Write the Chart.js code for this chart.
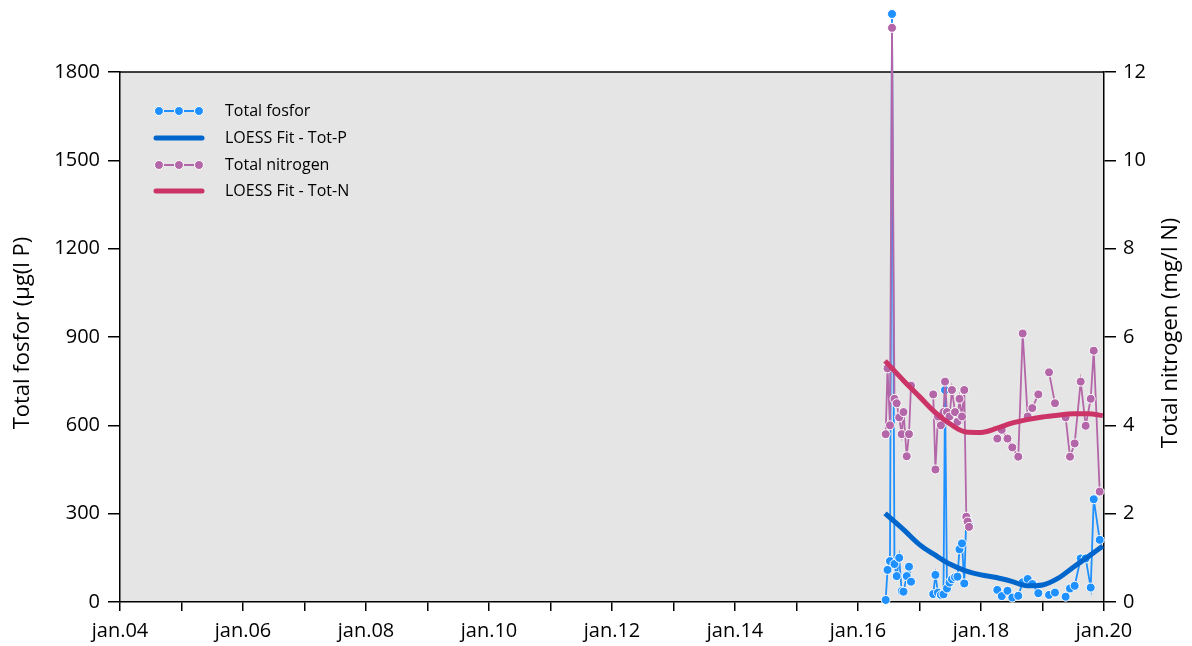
<!DOCTYPE html>
<html>
<head>
<meta charset="utf-8">
<script src="https://cdn.jsdelivr.net/npm/chart.js@4"></script>
<style>
  body { margin: 0; background: #fff; }
  #wrap { width: 1192px; height: 646px; }
</style>
</head>
<body>
<div id="wrap"><canvas id="chart"></canvas></div>
<script>
// sample dates as decimal years, null rows break the lines
const sampleYears = [
    2016.450, 2016.480, 2016.520, 2016.553, 2016.593, 2016.629, 2016.670, 2016.710, 2016.740, 2016.792, 2016.829, 2016.862,
    2016.95,
    2017.223, 2017.259, 2017.300, 2017.348, 2017.390, 2017.415, 2017.447, 2017.488, 2017.528, 2017.577, 2017.618, 2017.650,
    2017.691, 2017.728, 2017.761, 2017.782, 2017.805,
    2017.90,
    2018.265, 2018.337, 2018.431, 2018.509, 2018.606, 2018.678, 2018.759, 2018.834, 2018.932,
    2018.99,
    2019.106, 2019.203,
    2019.29,
    2019.376, 2019.447, 2019.523, 2019.621, 2019.702, 2019.784, 2019.833, 2019.930
];
const totalP = [
    7, 109, 139, 1997, 129, 88, 150, 37, 35, 88, 120, 69,
    null,
    27, 92, 32, 24, 26, 720, 46, 66, 77, 84, 86, 179,
    199, 63, 290, 279, 262,
    null,
    41, 20, 38, 15, 21, 67, 78, 61, 30,
    null,
    24, 32,
    null,
    18, 46, 55, 148, 148, 49, 349, 211
];
const totalN = [
    3.8, 5.29, 4.0, 13.0, 4.6, 4.5, 4.18, 3.8, 4.3, 3.3, 3.8, 4.9,
    null,
    4.7, 3.0, 4.2, 4.0, 4.3, 4.99, 4.3, 4.2, 4.8, 4.3, 4.08, 4.6,
    4.2, 4.8, 1.93, 1.82, 1.7,
    null,
    3.7, 3.9, 3.7, 3.5, 3.29, 6.08, 4.2, 4.39, 4.7,
    null,
    5.2, 4.5,
    null,
    4.18, 3.29, 3.59, 4.99, 3.99, 4.6, 5.69, 2.5
];

// LOESS curves
const loessYears = [2016.44, 2016.75, 2017.0, 2017.25, 2017.5, 2017.75, 2018.0, 2018.25, 2018.5, 2018.75, 2019.0, 2019.25, 2019.5, 2019.75, 2019.98];
const loessP = [301, 244, 195, 160, 128, 106, 92, 83, 70, 55, 58, 80, 118, 155, 190];
const loessN = [5.46, 5.0, 4.65, 4.3, 4.03, 3.85, 3.84, 3.93, 4.05, 4.13, 4.19, 4.23, 4.26, 4.26, 4.22];

const pTicks = [0, 300, 600, 900, 1200, 1500, 1800];
const nTicks = [0, 2, 4, 6, 8, 10, 12];

const leftTitle = 'Total fosfor (µg(l P)';
const rightTitle = 'Total nitrogen (mg/l N)';

const FONT = 'Open Sans';

function pairs(xs, ys) {
    return xs.map((x, i) => ({ x: x, y: ys[i] }));
}

// grey plot area + top frame line
const plotBox = {
    id: 'plotBox',
    beforeDraw(chart) {
        const { ctx, chartArea: a } = chart;
        ctx.save();
        ctx.fillStyle = '#e5e5e5';
        ctx.fillRect(a.left, a.top, a.right - a.left, a.bottom - a.top);
        ctx.restore();
    },
    beforeDatasetsDraw(chart) {
        const { ctx, chartArea: a } = chart;
        ctx.save();
        ctx.strokeStyle = '#000';
        ctx.lineWidth = 1.5;
        ctx.beginPath();
        ctx.moveTo(a.left, a.top);
        ctx.lineTo(a.right, a.top);
        ctx.stroke();
        ctx.restore();
    },
    // points above the axis max are skipped by chart.js, draw them anyway
    afterDatasetsDraw(chart) {
        const full = { left: 0, top: 0, right: chart.width, bottom: chart.height };
        chart.data.datasets.forEach((ds, i) => {
            if (!ds.pointRadius) return;
            chart.getDatasetMeta(i).data.forEach(el => {
                if (!el.skip && el.y < chart.chartArea.top) el.draw(chart.ctx, full);
            });
        });
    }
};

// legend inside the plot + both axis titles reading upwards
const insideLegend = {
    id: 'insideLegend',
    afterDraw(chart) {
        const ctx = chart.ctx;
        const x0 = 159, x1 = 199, textX = 225;
        const rows = [111, 138, 165, 191];
        ctx.save();
        chart.data.datasets.forEach((ds, i) => {
            const y = rows[i];
            ctx.strokeStyle = ds.borderColor;
            ctx.lineCap = 'round';
            ctx.beginPath();
            if (ds.pointRadius) {
                ctx.lineWidth = 2;
                ctx.moveTo(x0, y);
                ctx.lineTo(x1, y);
            } else {
                ctx.lineWidth = 5;
                ctx.moveTo(x0 - 3, y);
                ctx.lineTo(x1 + 3, y);
            }
            ctx.stroke();
            if (ds.pointRadius) {
                [x0, (x0 + x1) / 2, x1].forEach(px => {
                    ctx.beginPath();
                    ctx.arc(px, y, 4.5, 0, Math.PI * 2);
                    ctx.fillStyle = ds.pointBackgroundColor;
                    ctx.fill();
                    ctx.lineWidth = 1;
                    ctx.strokeStyle = '#fff';
                    ctx.stroke();
                });
            }
            ctx.fillStyle = '#000';
            ctx.font = '16px "' + FONT + '"';
            ctx.textBaseline = 'middle';
            ctx.textAlign = 'left';
            ctx.fillText(ds.label, textX, y);
        });

        ctx.font = '22px "' + FONT + '"';
        ctx.textAlign = 'center';
        ctx.textBaseline = 'middle';
        ctx.fillStyle = '#000';
        [[23, leftTitle], [1171, rightTitle]].forEach(([x, t]) => {
            ctx.save();
            ctx.translate(x, 333);
            ctx.rotate(-Math.PI / 2);
            ctx.fillText(t, 0, 0);
            ctx.restore();
        });
        ctx.restore();
    }
};

new Chart(document.getElementById('chart'), {
    type: 'line',
    data: {
        datasets: [
            {
                label: 'Total fosfor',
                data: pairs(sampleYears, totalP),
                yAxisID: 'y',
                borderColor: '#1e90ff',
                backgroundColor: '#1e90ff',
                pointBackgroundColor: '#1e90ff',
                pointBorderColor: '#fff',
                pointBorderWidth: 1,
                pointRadius: 4.5,
                borderWidth: 1.8,
                clip: false,
                order: 4
            },
            {
                label: 'LOESS Fit - Tot-P',
                data: pairs(loessYears, loessP),
                yAxisID: 'y',
                borderColor: '#0066cc',
                pointRadius: 0,
                borderWidth: 5,
                cubicInterpolationMode: 'monotone',
                order: 3
            },
            {
                label: 'Total nitrogen',
                data: pairs(sampleYears, totalN),
                yAxisID: 'y1',
                borderColor: '#b467a8',
                backgroundColor: '#b467a8',
                pointBackgroundColor: '#b467a8',
                pointBorderColor: '#fff',
                pointBorderWidth: 1,
                pointRadius: 4.5,
                borderWidth: 1.8,
                clip: false,
                order: 2
            },
            {
                label: 'LOESS Fit - Tot-N',
                data: pairs(loessYears, loessN),
                yAxisID: 'y1',
                borderColor: '#cc3366',
                pointRadius: 0,
                borderWidth: 5,
                cubicInterpolationMode: 'monotone',
                order: 1
            }
        ]
    },
    options: {
        responsive: true,
        maintainAspectRatio: false,
        animation: false,
        layout: { padding: { top: 72, left: 0, right: 0, bottom: 0 } },
        plugins: {
            legend: { display: false },
            tooltip: { enabled: false }
        },
        scales: {
            x: {
                type: 'linear',
                min: 2004,
                max: 2020,
                afterFit: s => { s.height = 44; },
                ticks: {
                    stepSize: 1,
                    autoSkip: false,
                    maxRotation: 0,
                    padding: 8,
                    color: '#000',
                    font: { family: FONT, size: 20 },
                    callback: v => (v % 2 === 0 ? 'jan.' + String(v).slice(2) : '')
                },
                grid: { drawOnChartArea: false, color: '#000', tickLength: 9, lineWidth: 1.5 },
                border: { color: '#000', width: 1.5 }
            },
            y: {
                position: 'left',
                min: 0,
                max: 1800,
                afterFit: s => { s.width = 120; },
                afterBuildTicks: s => { s.ticks = pTicks.map(v => ({ value: v })); },
                ticks: { color: '#000', padding: 8, font: { family: FONT, size: 20 }, callback: v => String(v) },
                grid: { drawOnChartArea: false, color: '#000', tickLength: 12, lineWidth: 1.5 },
                border: { color: '#000', width: 1.5 }
            },
            y1: {
                position: 'right',
                min: 0,
                max: 12,
                afterFit: s => { s.width = 88; },
                afterBuildTicks: s => { s.ticks = nTicks.map(v => ({ value: v })); },
                ticks: { color: '#000', padding: 7, font: { family: FONT, size: 20 }, callback: v => String(v) },
                grid: { drawOnChartArea: false, color: '#000', tickLength: 12, lineWidth: 1.5 },
                border: { color: '#000', width: 1.5 }
            }
        }
    },
    plugins: [plotBox, insideLegend]
});
</script>
</body>
</html>
